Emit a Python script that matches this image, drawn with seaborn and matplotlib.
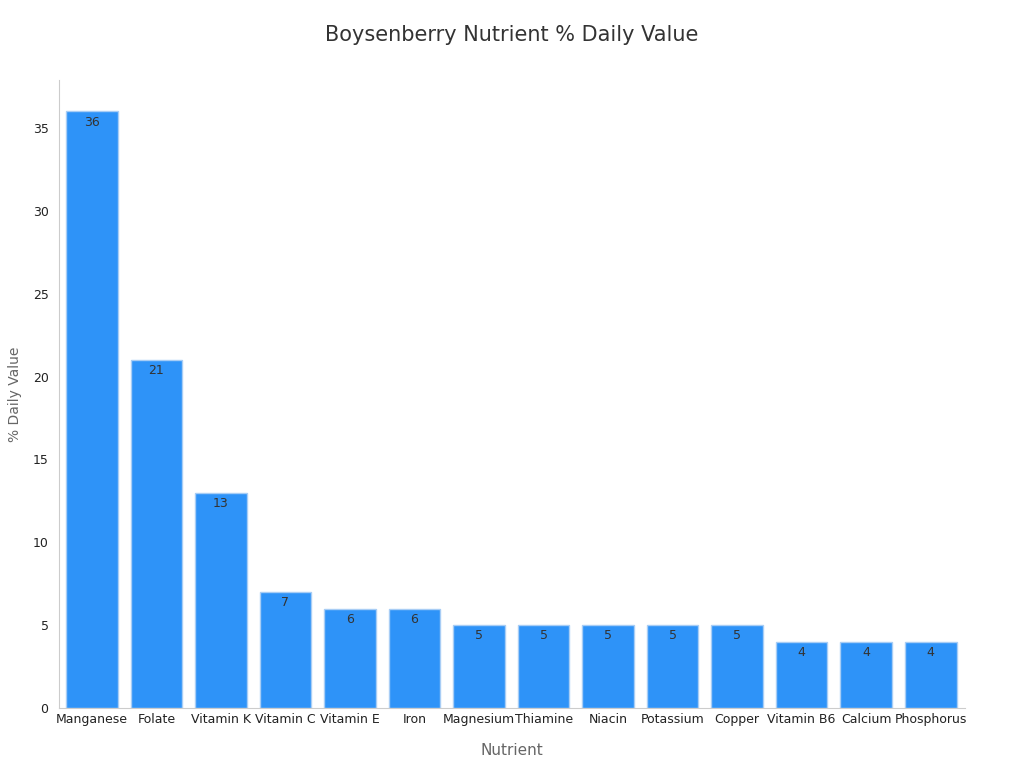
import matplotlib
matplotlib.use("Agg")
import matplotlib.pyplot as plt
import seaborn as sns
import pandas as pd

nutrients = ["Manganese", "Folate", "Vitamin K", "Vitamin C", "Vitamin E", "Iron", "Magnesium",
             "Thiamine", "Niacin", "Potassium", "Copper", "Vitamin B6", "Calcium", "Phosphorus"]
values = [36, 21, 13, 7, 6, 6, 5, 5, 5, 5, 5, 4, 4, 4]

sns.set_style("white")
plt.rcParams['font.family'] = ['DejaVu Sans']
df = pd.DataFrame({"Nutrient": nutrients, "Value": values})

fig = plt.figure(figsize=(10.24, 7.68), dpi=100)
ax = fig.add_axes([0.0576, 0.078, 0.8847, 0.818])
sns.barplot(data=df, x="Nutrient", y="Value", color="#2e93f8", saturation=1, width=0.8,
            edgecolor="#a8cdf5", linewidth=1, ax=ax)
for i, v in enumerate(values):
    ax.text(i, v - 0.25, str(v), ha="center", va="top", fontsize=9, color="#333333")
ax.set_xlim(-0.51, 13.53)
ax.set_ylim(0, 37.9)
ax.set_yticks([0, 5, 10, 15, 20, 25, 30, 35])
ax.tick_params(axis="both", labelsize=9, colors="#222222", length=4)
ax.tick_params(axis="x", length=0)
ax.tick_params(axis="y", color="#888888")
for s in ["top", "right"]:
    ax.spines[s].set_visible(False)
for s in ["left", "bottom"]:
    ax.spines[s].set_color("#cccccc")
ax.set_xlabel("Nutrient", fontsize=11, color="#666666", labelpad=12)
ax.set_ylabel("% Daily Value", fontsize=10, color="#666666", labelpad=8)
fig.suptitle("Boysenberry Nutrient % Daily Value", fontsize=15, color="#333333", y=0.967)
fig.savefig("out.png", dpi=100)
